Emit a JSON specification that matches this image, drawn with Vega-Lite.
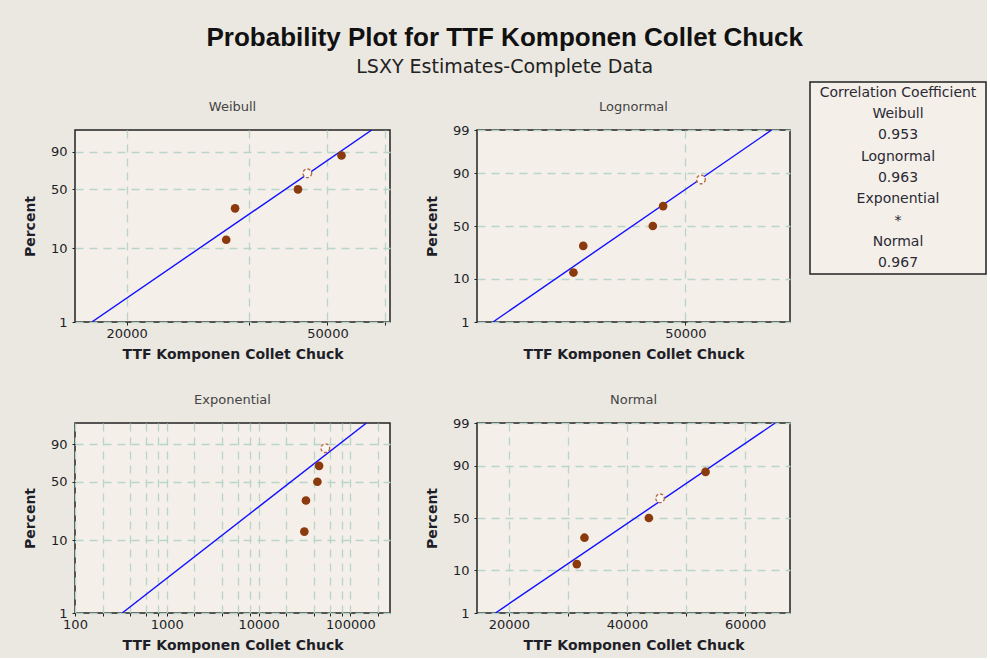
{
  "$schema": "https://vega.github.io/schema/vega-lite/v6.json",
  "padding": {"left": 22, "top": 25, "right": 0, "bottom": 5},
  "background": "#ebe8e1",
  "title": {
    "text": "Probability Plot for TTF Komponen Collet Chuck",
    "subtitle": "LSXY Estimates-Complete Data",
    "anchor": "middle",
    "font": "Liberation Sans",
    "fontSize": 26,
    "fontWeight": "bold",
    "color": "#111111",
    "subtitleFont": "DejaVu Sans",
    "subtitleFontSize": 19,
    "subtitleColor": "#222222",
    "subtitlePadding": 7,
    "offset": 4
  },
  "datasets": {
    "pts": [
      {"dist": "Weibull", "ttf": 31500, "percent": 12.96, "score": -1.9747, "selected": false},
      {"dist": "Weibull", "ttf": 32800, "percent": 31.48, "score": -0.9727, "selected": false},
      {"dist": "Weibull", "ttf": 43700, "percent": 50.0, "score": -0.3665, "selected": false},
      {"dist": "Weibull", "ttf": 45600, "percent": 68.52, "score": 0.1448, "selected": true},
      {"dist": "Weibull", "ttf": 53300, "percent": 87.04, "score": 0.7146, "selected": false},
      {"dist": "Lognormal", "ttf": 31500, "percent": 12.96, "score": -1.1281, "selected": false},
      {"dist": "Lognormal", "ttf": 32800, "percent": 31.48, "score": -0.4822, "selected": false},
      {"dist": "Lognormal", "ttf": 43700, "percent": 50.0, "score": 0.0, "selected": false},
      {"dist": "Lognormal", "ttf": 45600, "percent": 68.52, "score": 0.4822, "selected": false},
      {"dist": "Lognormal", "ttf": 53300, "percent": 87.04, "score": 1.1281, "selected": true},
      {"dist": "Exponential", "ttf": 31500, "percent": 12.96, "score": -1.9747, "selected": false},
      {"dist": "Exponential", "ttf": 32800, "percent": 31.48, "score": -0.9727, "selected": false},
      {"dist": "Exponential", "ttf": 43700, "percent": 50.0, "score": -0.3665, "selected": false},
      {"dist": "Exponential", "ttf": 45600, "percent": 68.52, "score": 0.1448, "selected": false},
      {"dist": "Exponential", "ttf": 53300, "percent": 87.04, "score": 0.7146, "selected": true},
      {"dist": "Normal", "ttf": 31500, "percent": 12.96, "score": -1.1281, "selected": false},
      {"dist": "Normal", "ttf": 32800, "percent": 31.48, "score": -0.4822, "selected": false},
      {"dist": "Normal", "ttf": 43700, "percent": 50.0, "score": 0.0, "selected": false},
      {"dist": "Normal", "ttf": 45600, "percent": 68.52, "score": 0.4822, "selected": true},
      {"dist": "Normal", "ttf": 53300, "percent": 87.04, "score": 1.1281, "selected": false}
    ],
    "fits": [
      {"dist": "Weibull", "ttf": 17060, "percent": 1, "score": -4.6002},
      {"dist": "Weibull", "ttf": 61200, "percent": 99, "score": 1.5272},
      {"dist": "Lognormal", "ttf": 22600, "percent": 1, "score": -2.3263},
      {"dist": "Lognormal", "ttf": 71340, "percent": 99, "score": 2.3263},
      {"dist": "Exponential", "ttf": 326.6, "percent": 1, "score": -4.6002},
      {"dist": "Exponential", "ttf": 149700, "percent": 99, "score": 1.5272},
      {"dist": "Normal", "ttf": 17720, "percent": 1, "score": -2.3263},
      {"dist": "Normal", "ttf": 65100, "percent": 99, "score": 2.3263}
    ],
    "cc": [
      {"row": 1, "label": "Correlation Coefficient"},
      {"row": 2, "label": "Weibull"},
      {"row": 3, "label": "0.953"},
      {"row": 4, "label": "Lognormal"},
      {"row": 5, "label": "0.963"},
      {"row": 6, "label": "Exponential"},
      {"row": 7, "label": "*"},
      {"row": 8, "label": "Normal"},
      {"row": 9, "label": "0.967"}
    ],
    "blank": [{"note": ""}]
  },
  "hconcat": [
    {
      "vconcat": [
        {
          "width": 1, "height": 1,
          "data": {"name": "blank"},
          "mark": {"type": "point", "size": 0, "opacity": 0},
          "encoding": {},
          "view": {"stroke": null, "fill": null}
        },
        {
          "vconcat": [
            {
              "hconcat": [
                {
                  "width": 315, "height": 192,
                  "title": {"text": "Weibull", "offset": 16},
                  "encoding": {
                    "x": {"field": "ttf", "type": "quantitative",
                      "scale": {"type": "log", "domain": [15800, 66500], "nice": false},
                      "axis": {"title": "TTF Komponen Collet Chuck", "values": [20000, 35000, 50000, 65000],
                        "labelExpr": "datum.value == 20000 || datum.value == 50000 ? format(datum.value, 'd') : ''"}},
                    "y": {"field": "score", "type": "quantitative",
                      "scale": {"domain": [-4.6002, 1.5272], "nice": false, "zero": false},
                      "axis": {"title": "Percent", "values": [-4.6002, -2.2504, -0.3665, 0.834],
                        "labelExpr": "datum.value < -3 ? '1' : datum.value < -1 ? '10' : datum.value < 0 ? '50' : '90'"}}
                  },
                  "layer": [
                    {"data": {"name": "fits"}, "transform": [{"filter": "datum.dist === 'Weibull'"}],
                     "mark": {"type": "line", "color": "#1010ff", "strokeWidth": 1.4, "clip": true}},
                    {"data": {"name": "pts"}, "transform": [{"filter": "datum.dist === 'Weibull' && !datum.selected"}],
                     "mark": {"type": "point", "filled": true, "size": 75, "color": "#8a3a0c", "opacity": 1}},
                    {"data": {"name": "pts"}, "transform": [{"filter": "datum.dist === 'Weibull' && datum.selected"}],
                     "mark": {"type": "point", "filled": false, "size": 75, "stroke": "#b86a48", "fill": "#fbf7f3", "fillOpacity": 1, "strokeDash": [3, 2], "strokeWidth": 1.4, "opacity": 1}}
                  ]
                },
                {
                  "width": 313, "height": 192,
                  "title": {"text": "Lognormal", "offset": 10},
                  "encoding": {
                    "x": {"field": "ttf", "type": "quantitative",
                      "scale": {"type": "log", "domain": [21160, 76960], "nice": false},
                      "axis": {"title": "TTF Komponen Collet Chuck", "values": [50000], "format": "d"}},
                    "y": {"field": "score", "type": "quantitative",
                      "scale": {"domain": [-2.3263, 2.3263], "nice": false, "zero": false},
                      "axis": {"title": "Percent", "values": [-2.3263, -1.2816, 0, 1.2816, 2.3263],
                        "labelExpr": "datum.value < -2 ? '1' : datum.value < -1 ? '10' : datum.value < 1 ? '50' : datum.value < 2 ? '90' : '99'"}}
                  },
                  "layer": [
                    {"data": {"name": "fits"}, "transform": [{"filter": "datum.dist === 'Lognormal'"}],
                     "mark": {"type": "line", "color": "#1010ff", "strokeWidth": 1.4, "clip": true}},
                    {"data": {"name": "pts"}, "transform": [{"filter": "datum.dist === 'Lognormal' && !datum.selected"}],
                     "mark": {"type": "point", "filled": true, "size": 75, "color": "#8a3a0c", "opacity": 1}},
                    {"data": {"name": "pts"}, "transform": [{"filter": "datum.dist === 'Lognormal' && datum.selected"}],
                     "mark": {"type": "point", "filled": false, "size": 75, "stroke": "#b86a48", "fill": "#fbf7f3", "fillOpacity": 1, "strokeDash": [3, 2], "strokeWidth": 1.4, "opacity": 1}}
                  ]
                }
              ],
              "spacing": 33
            },
            {
              "hconcat": [
                {
                  "width": 315, "height": 190,
                  "title": {"text": "Exponential", "offset": 16},
                  "encoding": {
                    "x": {"field": "ttf", "type": "quantitative",
                      "scale": {"type": "log", "domain": [100, 270000], "nice": false},
                      "axis": {"title": "TTF Komponen Collet Chuck",
                        "values": [100, 200, 400, 600, 800, 1000, 2000, 4000, 6000, 8000, 10000, 20000, 40000, 60000, 80000, 100000, 200000],
                        "labelExpr": "datum.value == 100 || datum.value == 1000 || datum.value == 10000 || datum.value == 100000 ? format(datum.value, 'd') : ''"}},
                    "y": {"field": "score", "type": "quantitative",
                      "scale": {"domain": [-4.6002, 1.5272], "nice": false, "zero": false},
                      "axis": {"title": "Percent", "values": [-4.6002, -2.2504, -0.3665, 0.834],
                        "labelExpr": "datum.value < -3 ? '1' : datum.value < -1 ? '10' : datum.value < 0 ? '50' : '90'"}}
                  },
                  "layer": [
                    {"data": {"name": "fits"}, "transform": [{"filter": "datum.dist === 'Exponential'"}],
                     "mark": {"type": "line", "color": "#1010ff", "strokeWidth": 1.4, "clip": true}},
                    {"data": {"name": "pts"}, "transform": [{"filter": "datum.dist === 'Exponential' && !datum.selected"}],
                     "mark": {"type": "point", "filled": true, "size": 75, "color": "#8a3a0c", "opacity": 1}},
                    {"data": {"name": "pts"}, "transform": [{"filter": "datum.dist === 'Exponential' && datum.selected"}],
                     "mark": {"type": "point", "filled": false, "size": 75, "stroke": "#b86a48", "fill": "#fbf7f3", "fillOpacity": 1, "strokeDash": [3, 2], "strokeWidth": 1.4, "opacity": 1}}
                  ]
                },
                {
                  "width": 313, "height": 190,
                  "title": {"text": "Normal", "offset": 10},
                  "encoding": {
                    "x": {"field": "ttf", "type": "quantitative",
                      "scale": {"domain": [14600, 67600], "nice": false, "zero": false},
                      "axis": {"title": "TTF Komponen Collet Chuck", "values": [20000, 30000, 40000, 50000, 60000],
                        "labelExpr": "datum.value == 20000 || datum.value == 40000 || datum.value == 60000 ? format(datum.value, 'd') : ''"}},
                    "y": {"field": "score", "type": "quantitative",
                      "scale": {"domain": [-2.3263, 2.3263], "nice": false, "zero": false},
                      "axis": {"title": "Percent", "values": [-2.3263, -1.2816, 0, 1.2816, 2.3263],
                        "labelExpr": "datum.value < -2 ? '1' : datum.value < -1 ? '10' : datum.value < 1 ? '50' : datum.value < 2 ? '90' : '99'"}}
                  },
                  "layer": [
                    {"data": {"name": "fits"}, "transform": [{"filter": "datum.dist === 'Normal'"}],
                     "mark": {"type": "line", "color": "#1010ff", "strokeWidth": 1.4, "clip": true}},
                    {"data": {"name": "pts"}, "transform": [{"filter": "datum.dist === 'Normal' && !datum.selected"}],
                     "mark": {"type": "point", "filled": true, "size": 75, "color": "#8a3a0c", "opacity": 1}},
                    {"data": {"name": "pts"}, "transform": [{"filter": "datum.dist === 'Normal' && datum.selected"}],
                     "mark": {"type": "point", "filled": false, "size": 75, "stroke": "#b86a48", "fill": "#fbf7f3", "fillOpacity": 1, "strokeDash": [3, 2], "strokeWidth": 1.4, "opacity": 1}}
                  ]
                }
              ],
              "spacing": 33
            }
          ],
          "spacing": 31
        }
      ],
      "spacing": 17
    },
    {
      "width": 176, "height": 192,
      "data": {"name": "cc"},
      "mark": {"type": "text", "font": "DejaVu Sans", "fontSize": 14, "color": "#2a2a35"},
      "encoding": {
        "y": {"field": "row", "type": "ordinal", "axis": null},
        "text": {"field": "label", "type": "nominal"}
      }
    }
  ],
  "spacing": 18,
  "config": {
    "view": {"fill": "#f5efe9", "stroke": "#222222", "strokeWidth": 1.5},
    "title": {"font": "DejaVu Sans", "fontSize": 13, "fontWeight": "normal", "color": "#444444", "offset": 12},
    "axis": {
      "labelFont": "DejaVu Sans", "labelFontSize": 13, "labelColor": "#1e1e28",
      "titleFont": "DejaVu Sans", "titleFontSize": 14, "titleFontWeight": "bold", "titleColor": "#1e1e28",
      "domain": false, "ticks": true, "tickSize": 3, "tickColor": "#222222",
      "grid": true, "gridColor": "#b7d5ca", "gridDash": [8, 6], "gridWidth": 1.3, "gridOpacity": 1,
      "labelFlush": false, "labelOverlap": false, "labelBound": false
    },
    "axisX": {"labelPadding": 2, "titlePadding": 7},
    "axisY": {"labelPadding": 5, "titlePadding": 13}
  }
}
